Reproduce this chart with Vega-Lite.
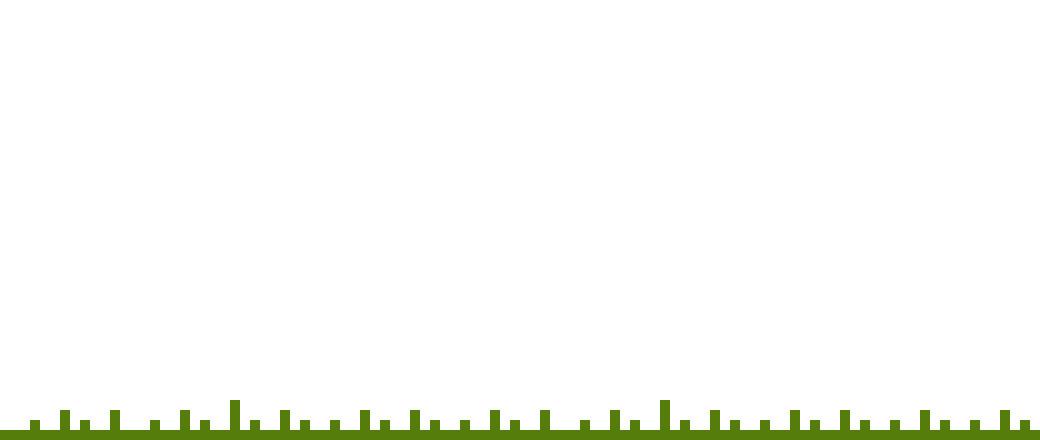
{
  "$schema": "https://vega.github.io/schema/vega-lite/v6.json",
  "width": 1040,
  "height": 440,
  "autosize": {"type": "fit", "contains": "padding"},
  "padding": 0,
  "background": "#ffffff",
  "config": {"view": {"stroke": null}},
  "data": {
    "values": [
      {"c": 0, "h": 1}, {"c": 1, "h": 1}, {"c": 2, "h": 1}, {"c": 3, "h": 2},
      {"c": 4, "h": 1}, {"c": 5, "h": 1}, {"c": 6, "h": 3}, {"c": 7, "h": 1},
      {"c": 8, "h": 2}, {"c": 9, "h": 1}, {"c": 10, "h": 1}, {"c": 11, "h": 3},
      {"c": 12, "h": 1}, {"c": 13, "h": 1}, {"c": 14, "h": 1}, {"c": 15, "h": 2},
      {"c": 16, "h": 1}, {"c": 17, "h": 1}, {"c": 18, "h": 3}, {"c": 19, "h": 1},
      {"c": 20, "h": 2}, {"c": 21, "h": 1}, {"c": 22, "h": 1}, {"c": 23, "h": 4},
      {"c": 24, "h": 1}, {"c": 25, "h": 2}, {"c": 26, "h": 1}, {"c": 27, "h": 1},
      {"c": 28, "h": 3}, {"c": 29, "h": 1}, {"c": 30, "h": 2}, {"c": 31, "h": 1},
      {"c": 32, "h": 1}, {"c": 33, "h": 2}, {"c": 34, "h": 1}, {"c": 35, "h": 1},
      {"c": 36, "h": 3}, {"c": 37, "h": 1}, {"c": 38, "h": 2}, {"c": 39, "h": 1},
      {"c": 40, "h": 1}, {"c": 41, "h": 3}, {"c": 42, "h": 1}, {"c": 43, "h": 2},
      {"c": 44, "h": 1}, {"c": 45, "h": 1}, {"c": 46, "h": 2}, {"c": 47, "h": 1},
      {"c": 48, "h": 1}, {"c": 49, "h": 3}, {"c": 50, "h": 1}, {"c": 51, "h": 2},
      {"c": 52, "h": 1}, {"c": 53, "h": 1}, {"c": 54, "h": 3}, {"c": 55, "h": 1},
      {"c": 56, "h": 1}, {"c": 57, "h": 1}, {"c": 58, "h": 2}, {"c": 59, "h": 1},
      {"c": 60, "h": 1}, {"c": 61, "h": 3}, {"c": 62, "h": 1}, {"c": 63, "h": 2},
      {"c": 64, "h": 1}, {"c": 65, "h": 1}, {"c": 66, "h": 4}, {"c": 67, "h": 1},
      {"c": 68, "h": 2}, {"c": 69, "h": 1}, {"c": 70, "h": 1}, {"c": 71, "h": 3},
      {"c": 72, "h": 1}, {"c": 73, "h": 2}, {"c": 74, "h": 1}, {"c": 75, "h": 1},
      {"c": 76, "h": 2}, {"c": 77, "h": 1}, {"c": 78, "h": 1}, {"c": 79, "h": 3},
      {"c": 80, "h": 1}, {"c": 81, "h": 2}, {"c": 82, "h": 1}, {"c": 83, "h": 1},
      {"c": 84, "h": 3}, {"c": 85, "h": 1}, {"c": 86, "h": 2}, {"c": 87, "h": 1},
      {"c": 88, "h": 1}, {"c": 89, "h": 2}, {"c": 90, "h": 1}, {"c": 91, "h": 1},
      {"c": 92, "h": 3}, {"c": 93, "h": 1}, {"c": 94, "h": 2}, {"c": 95, "h": 1},
      {"c": 96, "h": 1}, {"c": 97, "h": 2}, {"c": 98, "h": 1}, {"c": 99, "h": 1},
      {"c": 100, "h": 3}, {"c": 101, "h": 1}, {"c": 102, "h": 2}, {"c": 103, "h": 1}
    ]
  },
  "mark": {"type": "bar", "color": "#557d0b"},
  "encoding": {
    "x": {
      "field": "c",
      "type": "ordinal",
      "axis": null,
      "scale": {"paddingInner": 0, "paddingOuter": 0}
    },
    "y": {
      "field": "h",
      "type": "quantitative",
      "axis": null,
      "scale": {"domain": [0, 44], "nice": false}
    }
  }
}
